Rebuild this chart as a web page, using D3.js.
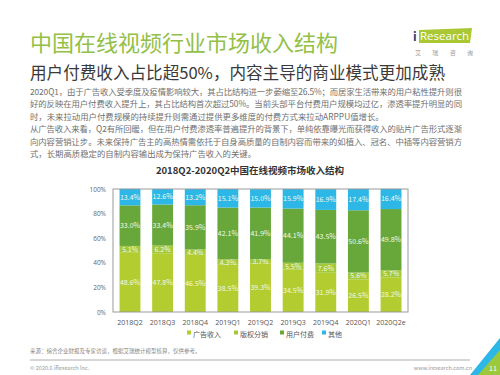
<!DOCTYPE html>
<html>
<head>
<meta charset="utf-8">
<script src="https://cdn.jsdelivr.net/npm/d3@7"></script>
<style>
  body { margin: 0; background: #fff; }
  svg { font-family: "Noto Sans CJK SC", "Noto Sans", sans-serif; display: block; }
</style>
</head>
<body>
<div id="chart"></div>
<script>
// quarters along the x axis
const quarters = ['2018Q2', '2018Q3', '2018Q4', '2019Q1', '2019Q2', '2019Q3', '2019Q4', '2020Q1', '2020Q2e']
// share of revenue, percent (bottom to top)
const adIncome   = [48.6, 47.8, 46.5, 38.5, 39.3, 34.5, 31.9, 26.5, 28.2]
const copyright  = [5.1, 6.2, 4.4, 4.3, 3.7, 5.5, 7.6, 5.6, 5.7]
const userPaid   = [33.0, 33.4, 35.9, 42.1, 41.9, 44.1, 43.5, 50.6, 49.8]
const others     = [13.4, 12.6, 13.2, 15.1, 15.0, 15.9, 16.9, 17.4, 16.4]
const seriesNames = ['广告收入', '版权分销', '用户付费', '其他']
const yTicks = [0, 20, 40, 60, 80, 100]

const paragraph = [
    '2020Q1，由于广告收入受季度及疫情影响较大，其占比结构进一步萎缩至26.5%；而居家生活带来的用户粘性提升则很',
    '好的反映在用户付费收入提升上，其占比结构首次超过50%。当前头部平台付费用户规模均过亿，渗透率提升明显的同',
    '时，未来拉动用户付费规模的持续提升则需通过提供更多维度的付费方式来拉动ARPPU值增长。',
    '从广告收入来看，Q2有所回暖，但在用户付费渗透率普遍提升的背景下，单纯依靠曝光而获得收入的贴片广告形式逐渐',
    '向内容营销让步。未来保持广告主的高热情需依托于自身高质量的自制内容而带来的如植入、冠名、中插等内容营销方',
    '式，长期高质稳定的自制内容输出成为保持广告收入的关键。'
]
const fullLine = [true, true, false, true, true, false]

const colors = ['#b3cc2f', '#a3c83a', '#68a83b', '#2db7e6']

const width = 500, height = 375
const svg = d3.select('#chart').append('svg')
    .attr('width', width)
    .attr('height', height)

// header
svg.append('text')
    .text('中国在线视频行业市场收入结构')
    .attr('x', 30).attr('y', 51)
    .attr('font-size', 22)
    .attr('fill', '#93c047')

svg.append('text')
    .text('用户付费收入占比超50%，内容主导的商业模式更加成熟')
    .attr('x', 30).attr('y', 79)
    .attr('font-size', 16.5)
    .attr('textLength', 415)
    .attr('lengthAdjust', 'spacingAndGlyphs')
    .attr('fill', '#3a3a3a')

// logo
svg.append('path')
    .attr('d', 'M419,30 L472,28 L470,43 L419,43 Z')
    .attr('fill', '#a9c833')
svg.append('text')
    .text('i')
    .attr('x', 413).attr('y', 41)
    .attr('font-size', 12).attr('font-weight', 'bold')
    .attr('fill', '#1f3f73')
svg.append('text')
    .text('Research')
    .attr('x', 420).attr('y', 40)
    .attr('font-size', 11.5)
    .attr('font-family', 'Open Sans')
    .attr('fill', '#fff')
svg.append('text')
    .text('艾 瑞 咨 询')
    .attr('x', 415).attr('y', 55)
    .attr('font-size', 6)
    .attr('letter-spacing', 5)
    .attr('fill', '#999')

// paragraph
svg.selectAll('text.para')
    .data(paragraph)
    .enter().append('text')
    .attr('class', 'para')
    .text(d => d)
    .attr('x', 30)
    .attr('y', (d, i) => 95 + i * 12.4)
    .attr('font-size', 8.4)
    .attr('fill', '#707070')
    .each(function(d, i) {
        if (fullLine[i]) d3.select(this).attr('textLength', 432).attr('lengthAdjust', 'spacing')
    })

// chart title
svg.append('text')
    .text('2018Q2-2020Q2中国在线视频市场收入结构')
    .attr('x', 250).attr('y', 174)
    .attr('text-anchor', 'middle')
    .attr('font-size', 9.5).attr('font-weight', 'bold')
    .attr('fill', '#333')

// plot
const margin = {left: 113, right: 92, top: 189, bottom: 63}
const x = d3.scaleBand()
    .domain(quarters)
    .range([margin.left, width - margin.right])
    .paddingInner(0.36)
    .paddingOuter(0.2)
const y = d3.scaleLinear()
    .domain([0, 100])
    .range([height - margin.bottom, margin.top])

const rows = quarters.map((q, i) => ({
    quarter: q,
    '广告收入': adIncome[i],
    '版权分销': copyright[i],
    '用户付费': userPaid[i],
    '其他': others[i]
}))
const stacked = d3.stack().keys(seriesNames)(rows)

const layers = svg.selectAll('g.layer')
    .data(stacked)
    .enter().append('g')
    .attr('class', 'layer')
    .attr('fill', (d, i) => colors[i])

layers.selectAll('rect')
    .data(d => d)
    .enter().append('rect')
    .attr('x', d => x(d.data.quarter))
    .attr('y', d => y(d[1]))
    .attr('width', x.bandwidth())
    .attr('height', d => y(d[0]) - y(d[1]))

layers.selectAll('text')
    .data(d => d.map(v => ({v, key: d.key})))
    .enter().append('text')
    .text(d => d.v.data[d.key].toFixed(1) + '%')
    .attr('x', d => x(d.v.data.quarter) + x.bandwidth() / 2)
    .attr('y', d => (y(d.v[0]) + y(d.v[1])) / 2 + 2.5)
    .attr('text-anchor', 'middle')
    .attr('font-size', 7)
    .attr('fill', '#f4f8e8')

// frame
svg.append('rect')
    .attr('x', margin.left).attr('y', margin.top)
    .attr('width', width - margin.right - margin.left)
    .attr('height', height - margin.bottom - margin.top)
    .attr('fill', 'none')
    .attr('stroke', '#9a9a9a')
    .attr('stroke-width', 1)

// y axis
const yAxis = svg.append('g')
    .attr('transform', 'translate(' + margin.left + ',0)')
    .call(d3.axisLeft(y).tickValues(yTicks).tickFormat(d => d + '%').tickSize(0).tickPadding(7))
yAxis.select('.domain').remove()
yAxis.selectAll('text').attr('font-size', 6.5).attr('fill', '#666').attr('font-family', 'Open Sans')

// x axis
const xAxis = svg.append('g')
    .attr('transform', 'translate(0,' + (height - margin.bottom) + ')')
    .call(d3.axisBottom(x).tickSize(0).tickPadding(8))
xAxis.select('.domain').remove()
xAxis.selectAll('text').attr('font-size', 7).attr('fill', '#555').attr('font-family', 'Open Sans')

// legend
const legendX = [187, 234, 280, 322]
const legend = svg.selectAll('g.legend')
    .data(seriesNames)
    .enter().append('g')
    .attr('class', 'legend')
    .attr('transform', (d, i) => 'translate(' + legendX[i] + ',334)')
legend.append('rect')
    .attr('x', 0).attr('y', -3.5)
    .attr('width', 4).attr('height', 4)
    .attr('fill', (d, i) => colors[i])
legend.append('text')
    .text(d => d)
    .attr('x', 6).attr('y', 2.5)
    .attr('font-size', 7)
    .attr('fill', '#555')

// footer
svg.append('text')
    .text('来源：综合企业财报及专家访谈，根据艾瑞统计模型核算，仅供参考。')
    .attr('x', 30).attr('y', 353)
    .attr('font-size', 5.5)
    .attr('fill', '#888')
svg.append('line')
    .attr('x1', 30).attr('x2', 470)
    .attr('y1', 360).attr('y2', 360)
    .attr('stroke', '#999').attr('stroke-width', 0.8)
svg.append('text')
    .text('© 2020.6 iResearch Inc.')
    .attr('x', 30).attr('y', 370)
    .attr('font-size', 5.5)
    .attr('fill', '#999')
svg.append('text')
    .text('www.iresearch.com.cn')
    .attr('x', 472).attr('y', 370)
    .attr('text-anchor', 'end')
    .attr('font-size', 5.5)
    .attr('fill', '#999')

// corner mark
svg.append('path')
    .attr('d', 'M500,338 L500,375 L470,375 Z')
    .attr('fill', '#2db7e6')
svg.append('path')
    .attr('d', 'M500,350 L500,375 L478,375 Z')
    .attr('fill', '#9cc93b')
svg.append('text')
    .text('11')
    .attr('x', 493).attr('y', 371)
    .attr('text-anchor', 'middle')
    .attr('font-size', 7)
    .attr('fill', '#fff')
</script>
</body>
</html>
